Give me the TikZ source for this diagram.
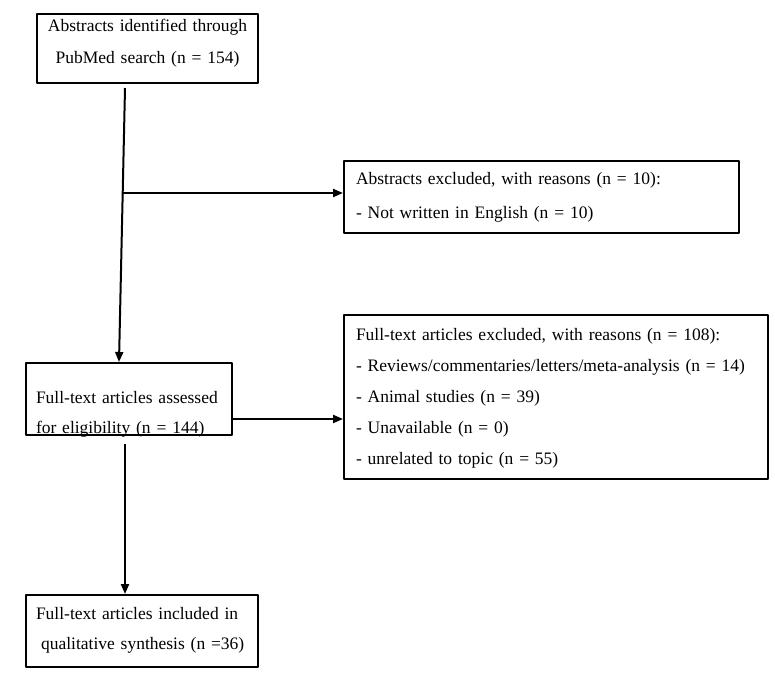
\documentclass[tikz,border=0pt]{standalone}
\usepackage{fontspec}
\setmainfont{Liberation Serif}
\usetikzlibrary{calc, arrows.meta}

\begin{document}
\begin{tikzpicture}[x=1pt, y=-1pt, line width=2pt, line join=round, >={Triangle[length=10pt, width=8pt]},
  box/.style={draw, anchor=north west, inner ysep=0pt, inner xsep=10pt, align=left, font=\fontsize{17.5}{30}\selectfont}]
\useasboundingbox (0,0) rectangle (775,672);
\node[box, align=center, inner xsep=0pt, text width=221pt, text height=17pt, text depth=52pt, font=\fontsize{17.5}{32}\selectfont] (search) at (36,13) {\mbox{Abstracts identified through}\\\mbox{PubMed search (n = 154)}};
\node[box, inner xsep=12pt, text width=371pt, text height=23pt, text depth=49pt, font=\fontsize{17.5}{34}\selectfont] (absexcl) at (343,160) {Abstracts excluded, with reasons (n = 10):\\- Not written in English (n = 10)};
\node[box, text width=186pt, text height=40pt, text depth=32pt] (assessed) at (25,362) {\mbox{Full-text articles assessed}\\\mbox{for eligibility (n = 144)}};
\node[box, inner xsep=12pt, text width=400pt, text height=25pt, text depth=139pt, font=\fontsize{17.5}{31}\selectfont] (ftexcl) at (343,314) {\mbox{Full-text articles excluded, with reasons (n = 108):}\\\mbox{- Reviews/commentaries/letters/meta-analysis (n = 14)}\\- Animal studies (n = 39)\\- Unavailable (n = 0)\\- unrelated to topic (n = 55)};
\node[box, text width=212pt, text height=24pt, text depth=48pt] (included) at (25,594) {\mbox{Full-text articles included in}\\\mbox{\hspace*{5pt}qualitative synthesis (n =36)}};
% connectors
\coordinate (s1) at ($(search.south west)+(89,4)$);
\coordinate (s2) at (123,193);
\coordinate (a1) at ($(assessed.south east)+(0,-17)$);
\coordinate (a2) at ($(assessed.south west)+(100,8)$);
\draw[->] (s1) -- ($(assessed.north west)+(94,0)$);
\draw[->] (s2) -- (s2 -| absexcl.west);
\draw[->] (a1) -- (a1 -| ftexcl.west);
\draw[->] (a2) -- (a2 |- included.north);
\end{tikzpicture}
\end{document}
